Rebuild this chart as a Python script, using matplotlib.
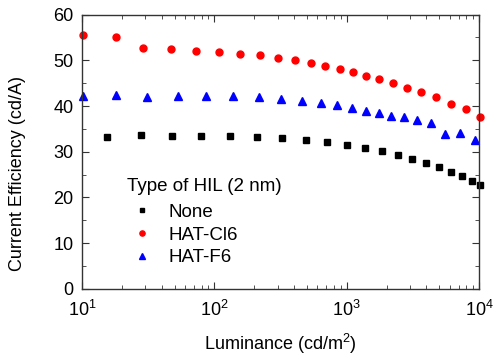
import numpy as np
import matplotlib.pyplot as plt
from matplotlib.ticker import LogLocator, MultipleLocator, NullFormatter

plt.rcParams['font.family'] = ['Liberation Sans', 'DejaVu Sans']
plt.rcParams['mathtext.fontset'] = 'custom'
plt.rcParams['mathtext.rm'] = 'Liberation Sans'

# None
lum_none = [15.5, 27.8, 47.9, 79.8, 131.5, 209, 325, 488, 707, 1003,
            1371, 1841, 2417, 3119, 3960, 4935, 6080, 7360, 8770, 10070]
ce_none = [33.3, 33.6, 33.4, 33.4, 33.4, 33.3, 32.9, 32.5, 32.1, 31.5,
           30.8, 30.1, 29.4, 28.5, 27.6, 26.6, 25.6, 24.7, 23.6, 22.7]

# HAT-Cl6
lum_cl = [10.2, 18.1, 29.1, 47.1, 72.3, 109, 157, 220, 303, 405, 535, 690,
          881, 1117, 1402, 1758, 2218, 2828, 3630, 4710, 6120, 7940, 10180]
ce_cl = [55.6, 55.1, 52.7, 52.5, 52.1, 51.8, 51.4, 51.1, 50.5, 50.1, 49.5, 48.8,
         48.2, 47.4, 46.6, 45.8, 45.1, 44.0, 43.1, 41.9, 40.5, 39.3, 37.6]

# HAT-F6
lum_f = [10.1, 18.1, 31.2, 53.2, 87.1, 139, 216, 319, 460, 637, 846,
         1099, 1386, 1740, 2168, 2700, 3400, 4345, 5480, 7160, 9230]
ce_f = [42.2, 42.4, 42.0, 42.2, 42.1, 42.1, 41.9, 41.6, 41.2, 40.6, 40.2,
        39.6, 39.0, 38.5, 37.9, 37.5, 37.0, 36.3, 33.9, 34.1, 32.6]

fig = plt.figure(figsize=(4.94, 3.55), dpi=100)
ax = fig.add_axes([0.166, 0.186, 0.804, 0.773])

ax.plot(lum_none, ce_none, 's', color='black', ms=4.2, label='None', clip_on=False)
ax.plot(lum_cl, ce_cl, 'o', color='red', ms=5, label='HAT-Cl6', clip_on=False)
ax.plot(lum_f, ce_f, '^', color='blue', ms=5.5, label='HAT-F6', clip_on=False)

ax.set_xscale('log')
ax.set_xlim(10, 1e4)
ax.set_ylim(0, 60)
ax.yaxis.set_major_locator(MultipleLocator(10))
ax.yaxis.set_minor_locator(MultipleLocator(5))
ax.xaxis.set_minor_locator(LogLocator(base=10, subs=np.arange(2, 10)))
ax.xaxis.set_minor_formatter(NullFormatter())

for s in ax.spines.values():
    s.set_color('#333333')
    s.set_linewidth(1.0)
ax.tick_params(which='both', direction='in', top=True, right=True, color='#333333')
ax.tick_params(which='major', length=5, labelsize=13)
ax.tick_params(axis='x', which='major', pad=8)
ax.tick_params(axis='y', which='major', pad=6)
ax.tick_params(which='minor', length=3)

ax.set_xlabel('Luminance (cd/m$^2$)', fontsize=13)
ax.xaxis.set_label_coords(0.5, -0.155)
ax.set_ylabel('Current Efficiency (cd/A)', fontsize=13)
ax.yaxis.set_label_coords(-0.142, 0.42)

leg = ax.legend(title='Type of HIL (2 nm)', loc='lower left', bbox_to_anchor=(0.095, 0.055),
                frameon=False, fontsize=13.5, title_fontsize=13.5, handletextpad=0.6,
                handlelength=1.6, labelspacing=0.3, borderaxespad=0, markerscale=0.75)
leg._legend_box.align = 'left'
leg._legend_box.sep = 6

fig.savefig('out.png', dpi=100)
